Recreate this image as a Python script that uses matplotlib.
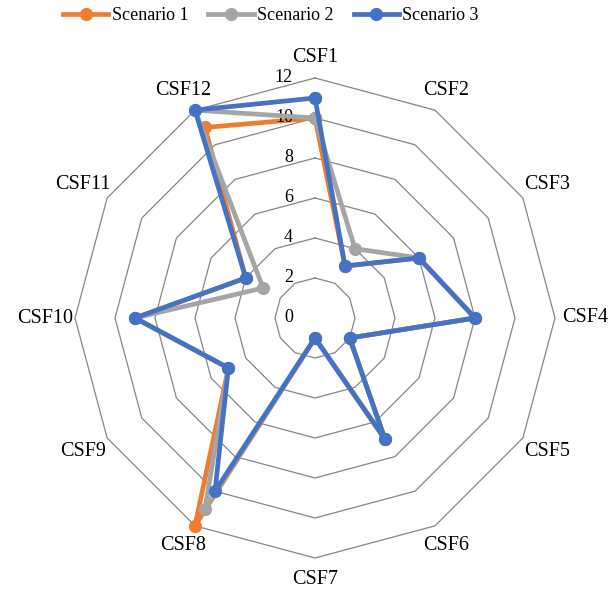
"""Radar chart of CSF scores for three scenarios."""

import matplotlib

matplotlib.use("Agg")
import matplotlib.pyplot as plt
import numpy as np
from matplotlib.transforms import offset_copy

categories = ["CSF1", "CSF2", "CSF3", "CSF4", "CSF5", "CSF6",
              "CSF7", "CSF8", "CSF9", "CSF10", "CSF11", "CSF12"]
scenario_1 = [10, 3, 6, 8, 2, 7, 1, 12, 5, 9, 4, 11]
scenario_2 = [10, 4, 6, 8, 2, 7, 1, 11, 5, 9, 3, 12]
scenario_3 = [11, 3, 6, 8, 2, 7, 1, 10, 5, 9, 4, 12]
series_names = ["Scenario 1", "Scenario 2", "Scenario 3"]
rings = [2, 4, 6, 8, 10, 12]
tick_values = [0, 2, 4, 6, 8, 10, 12]

colors = ["#ED7D31", "#A5A5A5", "#4472C4"]
grid_color = "#868686"

plt.rcParams["font.family"] = "serif"
plt.rcParams["font.serif"] = ["Liberation Serif", "DejaVu Serif"]

W, H = 610, 589
fig = plt.figure(figsize=(W / 100, H / 100), dpi=100)
ax = fig.add_axes([75 / W, 31 / H, 480 / W, 480 / H], projection="polar")
ax.set_theta_zero_location("N")
ax.set_theta_direction(-1)
ax.set_ylim(0, 12)
ax.grid(False)
ax.set_xticks([])
ax.set_yticks([])
ax.spines["polar"].set_visible(False)
ax.patch.set_visible(False)

n = len(categories)
theta = np.arange(n) * 2 * np.pi / n
theta_c = np.append(theta, theta[0])

# polygon grid
for r in rings:
    ax.plot(theta_c, [r] * (n + 1), color=grid_color, lw=0.9, zorder=1,
            clip_on=False)

# series (later series drawn on top, like Excel)
for i, (vals, name) in enumerate(zip([scenario_1, scenario_2, scenario_3], series_names)):
    v = np.append(vals, vals[0])
    ax.plot(theta_c, v, color=colors[i], lw=3.4, marker="o", ms=8.5,
            label=name, zorder=3 + i, solid_joinstyle="round", clip_on=False)

# category labels
for t, lab in zip(theta, categories):
    r = 13.05 + 0.45 * np.sin(t) ** 2
    ax.text(t, r, lab, ha="center", va="center", fontsize=14.5, color="black")

# value axis labels
tick_tr = offset_copy(ax.transData, fig=fig, x=-22, y=0, units="dots")
for v in tick_values:
    ax.text(0, v, str(v), transform=tick_tr, ha="right", va="center",
            fontsize=13, color="black")

fig.legend(loc="center", bbox_to_anchor=(271 / W, 1 - 16 / H), ncol=3,
           frameon=False, fontsize=13, handlelength=2.5, handletextpad=0.2,
           columnspacing=1.1, borderaxespad=0)

fig.savefig("out.png", dpi=100)
